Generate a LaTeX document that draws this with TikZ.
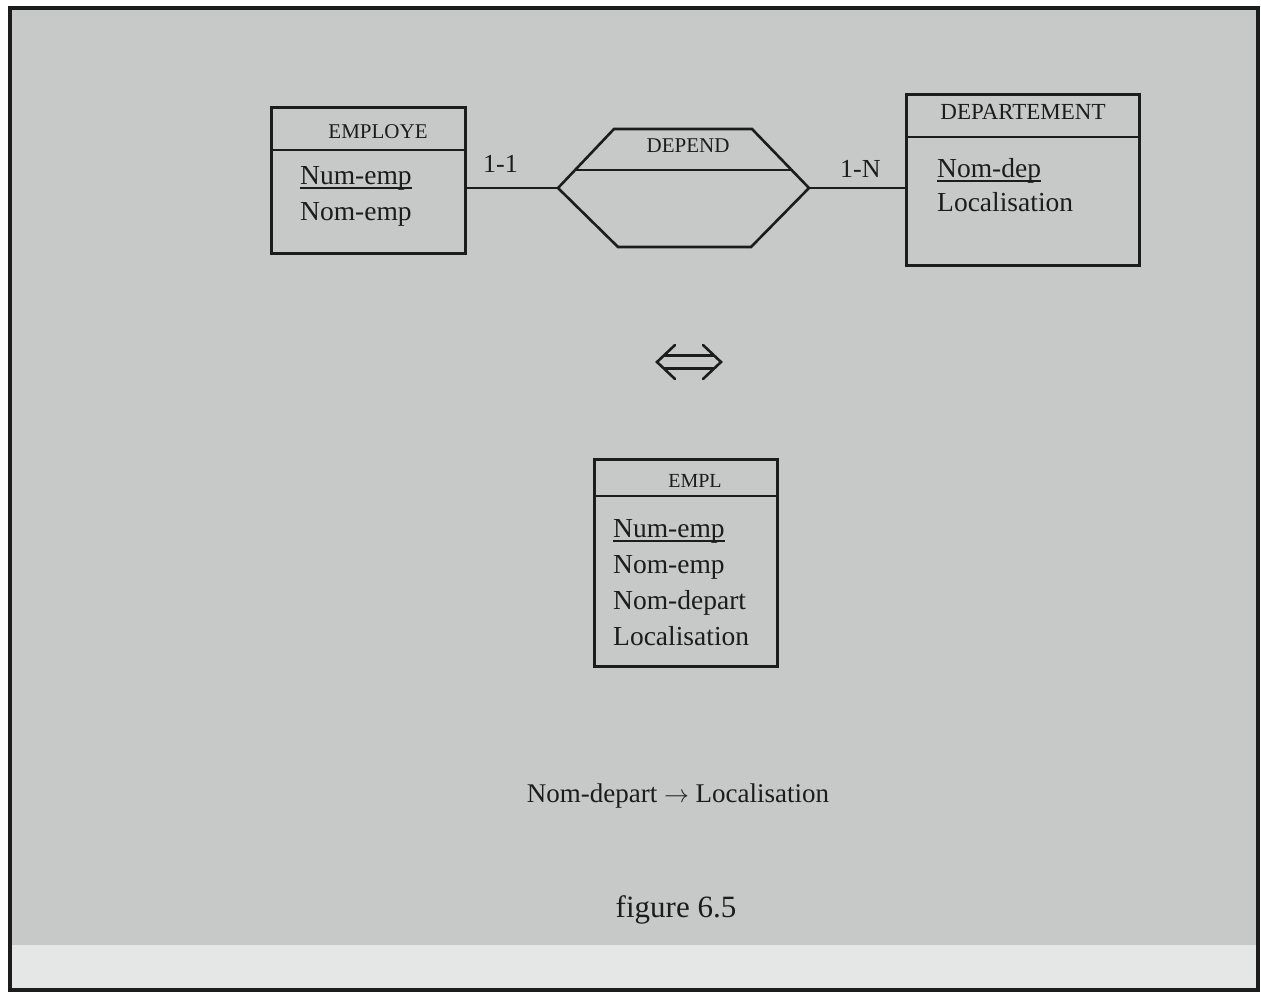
\documentclass[tikz,border=0pt]{standalone}
\usepackage{fontspec}
\setmainfont{Liberation Serif}
\definecolor{paper}{RGB}{199,200,200}
\definecolor{strip}{RGB}{229,230,230}
\definecolor{inkc}{RGB}{28,28,28}
\begin{document}
\begin{tikzpicture}[x=1pt,y=-1pt,
  ink/.style={draw=inkc, line width=2.6pt, line join=miter},
  entity/.style={ink, rectangle, inner sep=0pt, anchor=north west},
  attr/.style={inner sep=0pt, text=inkc, anchor=base west, font=\fontsize{27.5}{31}\selectfont},
  title/.style={inner sep=0pt, text=inkc, anchor=base},
  card/.style={inner sep=0pt, text=inkc, anchor=base west, font=\fontsize{26}{30}\selectfont}]
% page and frame
\useasboundingbox (0,0) rectangle (1261,994);
\fill[white] (0,0) rectangle (1261,994);
\fill[paper] (10,8) rectangle (1258,990);
\fill[strip] (10,945) rectangle (1258,990);
\draw[draw=inkc, line width=4pt] (10,8) rectangle (1258,990);

% EMPLOYE entity
\node[entity, minimum width=194pt, minimum height=146pt] (employe) at (270,106) {};
\draw[ink] (employe.west |- 0,150) -- (employe.east |- 0,150);
\node[title, font=\fontsize{21}{24}\selectfont] (employeT) at (378,138) {EMPLOYE};
\node[attr] (e1) at (300,184) {Num-emp};
\draw[inkc, line width=1.3pt] ([yshift=-4pt]e1.base west) -- ([yshift=-4pt]e1.base east);
\node[attr] (e2) at (300,220) {Nom-emp};

% DEPEND relationship
\coordinate (dl) at (558,188);
\coordinate (dr) at (809,188);
\draw[ink] (dl) -- (614,129) -- (752,129) -- (dr) -- (751,247) -- (618,247) -- cycle;
\draw[ink] (575,170) -- (793,170);
\node[title, font=\fontsize{21}{24}\selectfont] (dependT) at (688,152) {DEPEND};

% DEPARTEMENT entity
\node[entity, minimum width=233pt, minimum height=171pt] (dept) at (905,93) {};
\draw[ink] (dept.west |- 0,137) -- (dept.east |- 0,137);
\node[title, font=\fontsize{23}{26}\selectfont] (deptT) at (1023,119) {DEPARTEMENT};
\node[attr] (d1) at (937,177) {Nom-dep};
\draw[inkc, line width=1.3pt] ([yshift=-4pt]d1.base west) -- ([yshift=-4pt]d1.base east);
\node[attr] (d2) at (937,211) {Localisation};

% links with cardinalities
\draw[ink] (dl) -- (dl -| employe.east);
\draw[ink] (dr) -- (dr -| dept.west);
\node[card] (c1) at (483,172) {1-1};
\node[card] (c2) at (840,177) {1-N};

% equivalence sign
\draw[inkc, line width=2.6pt, line cap=round, line join=miter]
  (675,345) -- (657,362) -- (675,379)
  (703,345) -- (721,362) -- (703,379)
  (664,355.5) -- (714,355.5)
  (664,368.5) -- (714,368.5);

% EMPL relation
\node[entity, minimum width=183pt, minimum height=207pt] (empl) at (593,458) {};
\draw[ink] (empl.west |- 0,496) -- (empl.east |- 0,496);
\node[title, font=\fontsize{20}{24}\selectfont] (emplT) at (695,487) {EMPL};
\node[attr] (m1) at (613,537) {Num-emp};
\draw[inkc, line width=1.3pt] ([yshift=-4pt]m1.base west) -- ([yshift=-4pt]m1.base east);
\node[attr] (m2) at (613,573) {Nom-emp};
\node[attr] (m3) at (613,609) {Nom-depart};
\node[attr] (m4) at (613,645) {Localisation};

% dependency and caption
\node[title, font=\fontsize{27}{31}\selectfont] (fd) at (678,802) {Nom-depart $\rightarrow$ Localisation};
\node[title, font=\fontsize{31}{36}\selectfont] (cap) at (676,917) {figure 6.5};
\end{tikzpicture}
\end{document}
